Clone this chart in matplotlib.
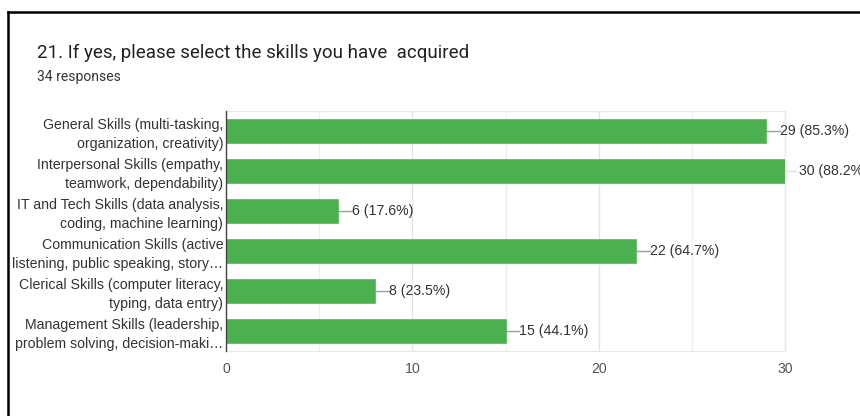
import matplotlib.pyplot as plt
from matplotlib.lines import Line2D
from matplotlib.ticker import MultipleLocator

title = "21. If yes, please select the skills you have  acquired"
subtitle = "34 responses"
total = 34

skills = [
    "General Skills (multi-tasking,\norganization, creativity)",
    "Interpersonal Skills (empathy,\nteamwork, dependability)",
    "IT and Tech Skills (data analysis,\ncoding, machine learning)",
    "Communication Skills (active\nlistening, public speaking, story…",
    "Clerical Skills (computer literacy,\ntyping, data entry)",
    "Management Skills (leadership,\nproblem solving, decision-maki…",
]
counts = [29, 30, 6, 22, 8, 15]
xticks = [0, 10, 20, 30]

plt.rcParams['font.family'] = ['Liberation Sans', 'DejaVu Sans']
head_font = ['Roboto', 'DejaVu Sans']
fs = 10.2

W, H = 860, 416
fig = plt.figure(figsize=(W / 100, H / 100), dpi=100)
fig.patch.set_facecolor("white")

# axes box in pixel terms: x 226..785, y 111..351
ax = fig.add_axes([226 / W, 1 - 351 / H, (785 - 226) / W, (351 - 111) / H])

pos = list(range(len(skills)))
ax.barh(pos, counts, height=0.6, color="#4caf50", edgecolor="#62bd66",
        linewidth=0.6, zorder=3)

ax.set_xlim(0, 30)
ax.set_ylim(len(skills) - 0.5, -0.5)
ax.set_yticks(pos)
ax.set_yticklabels(skills, fontsize=fs, color="#333333", linespacing=1.42)
ax.set_xticks(xticks)
ax.set_xticklabels([str(t) for t in xticks], fontsize=fs, color="#555555")
ax.xaxis.set_minor_locator(MultipleLocator(5))
ax.tick_params(axis="both", which="both", length=0)
ax.tick_params(axis="x", pad=8)
ax.tick_params(axis="y", pad=2)

ax.grid(axis="x", which="major", color="#e2e2e2", linewidth=0.9, zorder=0)
ax.grid(axis="x", which="minor", color="#efefef", linewidth=0.9, zorder=0)
for side in ("top", "right", "bottom"):
    ax.spines[side].set_color("#e8e8e8")
    ax.spines[side].set_linewidth(0.9)
ax.spines["left"].set_color("#444444")
ax.spines["left"].set_linewidth(1.0)
ax.spines["left"].set_zorder(4)

# value labels with short leader lines
for p, c in zip(pos, counts):
    label = f"{c} ({c / total * 100:.1f}%)"
    if c >= 30:
        ax.plot([c, c + 0.6], [p, p], color="#e0e0e0", linewidth=1.0,
                zorder=2, clip_on=False)
        ax.annotate(label, xy=(c, p), xytext=(10, 0), textcoords="offset points",
                    va="center", ha="left", fontsize=fs, color="#333333",
                    annotation_clip=False)
    else:
        ax.plot([c, c + 0.75], [p, p], color="#9e9e9e", linewidth=1.0,
                zorder=2, clip_on=False)
        ax.text(c + 0.75, p, label, va="center", ha="left", fontsize=fs,
                color="#333333")

fig.text(37 / W, 1 - 53 / H, title, fontsize=13.5, color="#222222",
         va="center", ha="left", family=head_font)
fig.text(37 / W, 1 - 77 / H, subtitle, fontsize=10, color="#333333",
         va="center", ha="left", family=head_font)

# dark frame along the top and left edges
fig.add_artist(Line2D([8 / W, 1], [1 - 12 / H, 1 - 12 / H], color="black",
                      linewidth=1.8, transform=fig.transFigure))
fig.add_artist(Line2D([8 / W, 8 / W], [0, 1 - 12 / H], color="black",
                      linewidth=1.8, transform=fig.transFigure))

fig.savefig("out.png", dpi=100, facecolor="white")
